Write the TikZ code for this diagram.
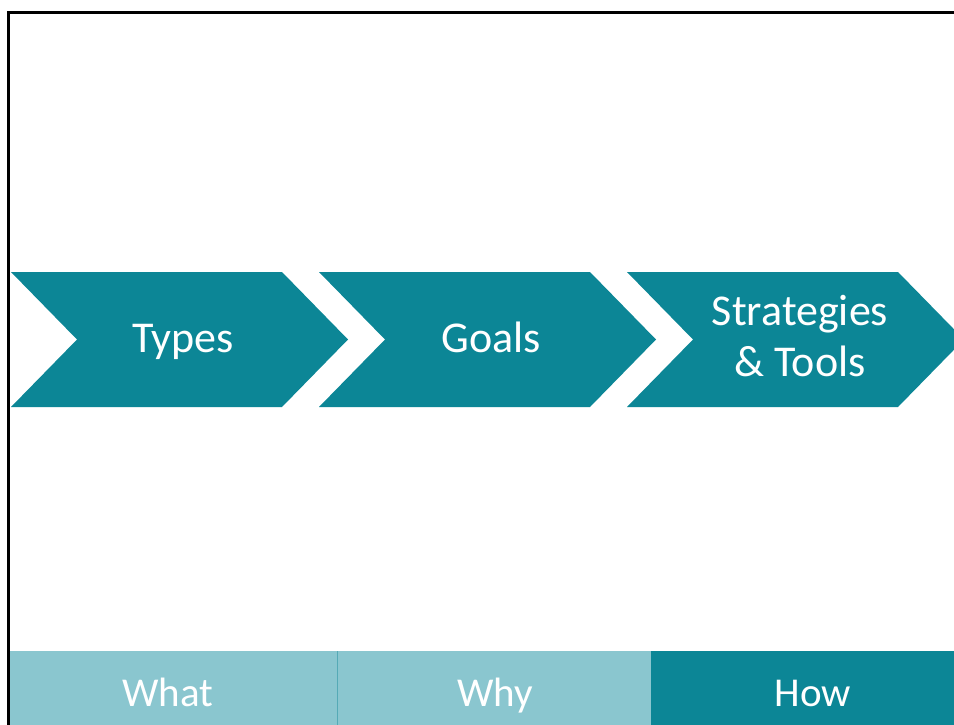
\documentclass[tikz,border=0pt]{standalone}
\usepackage{fontspec}
\setmainfont{Carlito}
\definecolor{teal1}{RGB}{12,134,150}
\definecolor{tealpat}{RGB}{138,198,207}
\begin{document}
\begin{tikzpicture}[x=1pt,y=-1pt,
  chev/.style={fill=teal1,draw=none},
  chevtext/.style={text=white,font=\fontsize{44}{51}\selectfont,align=center,inner sep=0pt,anchor=base},
  bartext/.style={text=white,font=\fontsize{41}{48}\selectfont,inner sep=0pt,anchor=base}]
\useasboundingbox (0,0) rectangle (954,725);
\clip (0,0) rectangle (954,725);
\fill[white] (0,0) rectangle (954,725);
% frame
\draw[line width=3pt] (8.5,12.5) rectangle (1000,800);
% chevrons
\foreach \x in {11,319,627}{
  \fill[chev] (\x,272) -- ++(271,0) -- ++(66,67.5) -- ++(-66,67.5) -- ++(-271,0) -- ++(66,-67.5) -- cycle;
}
\node[chevtext] (types) at (183,352) {Types};
\node[chevtext] (goals) at (491,352) {Goals};
\node[chevtext] (strat) at (800,376) {Strategies\\\& Tools};
% bottom bar
\fill[tealpat] (10,651) rectangle (651,725);
\draw[teal1!70,line width=0.7pt] (337,651) -- (337,725);
\fill[teal1] (651,651) rectangle (1000,725);
\node[bartext] (what) at (168,706) {What};
\node[bartext] (why) at (495,706) {Why};
\node[bartext] (how) at (813,706) {How};
\end{tikzpicture}
\end{document}
